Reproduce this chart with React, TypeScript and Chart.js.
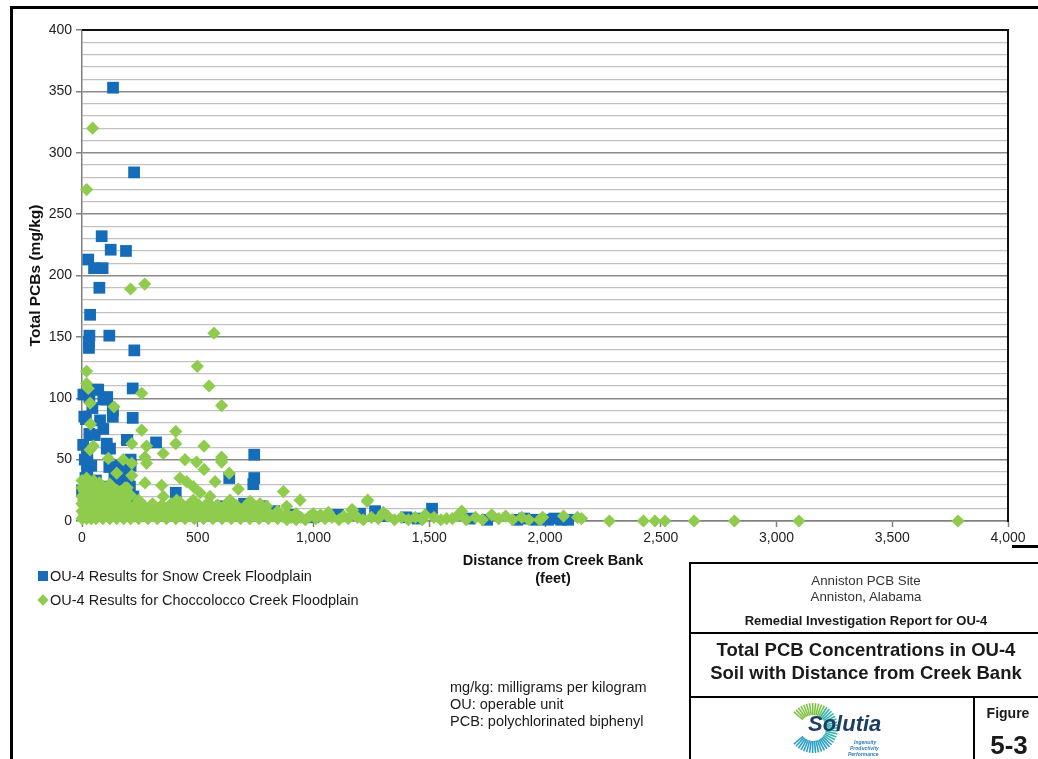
import React, { useEffect, useRef } from "react";
import { Chart, registerables } from "chart.js";

Chart.register(...registerables);

const F = '"Liberation Sans", Arial, Helvetica, sans-serif';

// ---- Data ----
const snowX = [
  134, 225, 85, 124, 190, 27, 52, 89, 75, 35, 32, 118, 30, 30, 226, 219, 219, 194, 320, 405, 744, 744, 740, 636, 1512,
  32, 63, 6, 104, 70, 92, 109, 133, 133, 17, 78, 92, 32, 107, 121, 107, 118, 23, 23, 23, 27, 0, 10, 5, 12, 45, 55, 40, 15, 60,
  196, 210, 210, 178, 171, 207, 222, 188, 150, 140, 165, 200, 100, 250, 300, 350, 520, 600, 650, 700, 780, 830, 900, 1000,
  1106, 1201, 1266, 1300, 1400, 1450, 1676, 1750, 1880, 1910, 1960, 2013, 2040, 2070, 2100,
];
const snowY = [
  353, 284, 232, 221, 220, 213, 206, 206, 190, 168, 151, 151, 146, 141, 139, 108, 84, 66, 64, 23, 54, 35, 30, 35, 10,
  101, 107, 103, 99, 107, 99, 101, 90, 85, 83, 82, 75, 71, 63, 59, 59, 44, 55, 47, 39, 30, 25, 85, 62, 50, 92, 70, 45, 35, 33,
  66, 50, 45, 36, 29, 28, 20, 17, 22, 35, 45, 37, 28, 12, 8, 10, 8, 12, 8, 14, 12, 8, 5, 3,
  5, 6, 8, 4, 3, 2, 2, 1, 1, 2, 1, 1, 2, 1, 1,
];

const choccOutX = [
  46, 20, 210, 271, 570, 498, 549, 603, 20, 20, 27, 35, 138, 258, 37, 258, 405, 405, 215, 279,
  527, 49, 35, 114, 272, 445, 495, 527, 603, 603, 636, 351, 279, 178, 215, 150, 215, 186, 272, 344,
  423, 452, 481, 575, 675, 870, 942, 1234, 1169, 1640, 351, 150, 409, 510, 481, 553, 639, 740, 798, 6,
  63, 1232, 1165, 1064, 884, 1770, 1575, 1482, 1302, 999, 769, 726, 1976, 2158, 2278, 2425, 2475, 2518, 2644, 2818,
  3097, 3784,
];
const choccOutY = [
  320, 270, 189, 193, 153, 126, 110, 94, 122, 112, 108, 96, 93, 104, 79, 74, 73, 63, 63, 61,
  61, 61, 58, 51, 52, 50, 48, 42, 52, 48, 39, 55, 47, 50, 47, 39, 37, 27, 31, 29,
  35, 32, 28, 32, 26, 24, 17, 17, 9, 8, 20, 25, 17, 23, 17, 20, 17, 13, 12, 17,
  23, 16, 9, 7, 12, 5, 2, 5, 7, 6, 14, 16, 1, 2, 0, 0, 0, 0, 0, 0,
  0, 0,
];

const choccNearX = [
  0, 0, 0, 0, 0, 0, 10, 10, 10, 10, 20, 20, 20, 20, 20, 30, 30, 30, 30, 40, 40, 40, 40,
  50, 50, 50, 50, 60, 60, 60, 60, 75, 75, 75, 75, 90, 90, 90, 90, 105, 105, 105,
  120, 120, 120, 120, 135, 135, 135, 150, 150, 150, 165, 165, 165, 180, 180, 180, 195, 195, 195, 210, 210, 210,
];
const choccNearY = [
  2, 8, 14, 20, 27, 33, 5, 12, 24, 30, 2, 9, 18, 28, 35, 5, 14, 22, 32, 2, 10, 19, 27,
  6, 15, 24, 33, 2, 11, 19, 29, 5, 14, 23, 31, 2, 10, 20, 28, 6, 15, 24,
  2, 11, 19, 30, 5, 14, 25, 2, 10, 18, 6, 14, 24, 2, 10, 19, 5, 14, 27, 2, 10, 21,
];

const choccMidX = [
  225, 225, 245, 245, 245, 265, 265, 285, 285, 305, 305, 325, 325, 345, 345, 365, 365, 385, 385, 405, 405,
  425, 425, 445, 445, 465, 465, 485, 485, 505, 505, 525, 525, 545, 545, 565, 565, 585, 585, 605, 605,
  625, 625, 645, 645, 665, 665, 685, 685, 705, 705, 725, 725, 745, 745, 765, 765, 785, 785,
];
const choccMidY = [
  4, 12, 2, 9, 17, 5, 13, 2, 10, 5, 14, 2, 10, 5, 13, 2, 9, 5, 14, 2, 10,
  6, 15, 2, 11, 5, 14, 2, 9, 5, 13, 2, 10, 6, 15, 2, 10, 5, 13, 2, 9,
  5, 14, 2, 10, 6, 13, 2, 9, 5, 12, 2, 8, 5, 11, 2, 8, 5, 10,
];

const choccFarX = [
  805, 805, 825, 845, 845, 865, 885, 885, 905, 925, 925, 945, 965, 985, 1010, 1030, 1050, 1080, 1110, 1130,
  1150, 1190, 1215, 1250, 1280, 1320, 1350, 1380, 1410, 1440, 1470, 1520, 1550, 1600, 1620, 1660, 1700, 1730, 1800, 1830,
  1860, 1900, 1930, 1990, 2080, 2140,
];
const choccFarY = [
  2, 7, 4, 2, 8, 4, 1, 6, 3, 1, 6, 3, 1, 4, 2, 5, 2, 3, 1, 4,
  2, 3, 1, 3, 2, 4, 1, 3, 1, 3, 1, 3, 1, 2, 4, 1, 3, 1, 2, 4,
  1, 3, 1, 3, 4, 3,
];

const X_MIN = 0;
const X_MAX = 4000;
const X_STEP = 500;
const Y_MIN = 0;
const Y_MAX = 400;
const Y_MINOR_STEP = 10;
const Y_LABEL_STEP = 50;

const SNOW_LABEL = "OU-4 Results for Snow Creek Floodplain";
const CHOCC_LABEL = "OU-4 Results for Choccolocco Creek Floodplain";

const BLUE = "#156CB9";
const GREEN = "#8FCC4E";

function pairs(xs: number[], ys: number[]) {
  return xs.map((x, i) => ({ x, y: ys[i] }));
}

const framePlugin = {
  id: "plotFrame",
  beforeDatasetsDraw(chart: any) {
    const { ctx, chartArea: a } = chart;
    ctx.save();
    ctx.strokeStyle = "#111";
    ctx.lineWidth = 2;
    ctx.beginPath();
    ctx.moveTo(a.left, a.top);
    ctx.lineTo(a.right, a.top);
    ctx.lineTo(a.right, a.bottom + 1);
    ctx.stroke();
    ctx.restore();
  },
};

function Logo() {
  const rays: React.ReactElement[] = [];
  const cx = 55;
  const cy = 30;
  for (let a = 40; a <= 320; a += 7) {
    const rad = (a * Math.PI) / 180;
    const r1 = 13;
    const r2 = a % 14 === 0 ? 29 : 25;
    const x1 = cx - Math.cos(rad) * r1;
    const y1 = cy - Math.sin(rad) * r1;
    const x2 = cx - Math.cos(rad) * r2;
    const y2 = cy - Math.sin(rad) * r2;
    const col = a < 120 ? "#7cc242" : a < 220 ? "#35b3b0" : "#2a9fc4";
    rays.push(<line key={a} x1={x1} y1={y1} x2={x2} y2={y2} stroke={col} strokeWidth={1.6} />);
  }
  return (
    <svg width={130} height={62} style={{ position: "absolute", left: 758, top: 698 }}>
      {rays}
      <text x={50} y={33} fontFamily={F} fontStyle="italic" fontWeight="bold" fontSize={22} fill="#1d3d63">
        Solutia
      </text>
      <text x={96} y={46} fontFamily={F} fontStyle="italic" fontWeight="bold" fontSize={5} fill="#2b7bb9">
        Ingenuity
      </text>
      <text x={92} y={52} fontFamily={F} fontStyle="italic" fontWeight="bold" fontSize={5} fill="#2b7bb9">
        Productivity
      </text>
      <text x={90} y={58} fontFamily={F} fontStyle="italic" fontWeight="bold" fontSize={5} fill="#2b7bb9">
        Performance
      </text>
    </svg>
  );
}

const abs = (s: React.CSSProperties): React.CSSProperties => ({ position: "absolute", ...s });

export default function App() {
  const ref = useRef<HTMLCanvasElement>(null);

  useEffect(() => {
    const chart = new Chart(ref.current as HTMLCanvasElement, {
      type: "scatter",
      data: {
        datasets: [
          {
            label: SNOW_LABEL,
            data: pairs(snowX, snowY),
            pointStyle: "rect",
            pointRadius: 8.3,
            pointHoverRadius: 8.3,
            backgroundColor: BLUE,
            borderWidth: 0,
            clip: false,
            order: 2,
          } as any,
          {
            label: CHOCC_LABEL,
            data: [
              ...pairs(choccNearX, choccNearY),
              ...pairs(choccMidX, choccMidY),
              ...pairs(choccFarX, choccFarY),
              ...pairs(choccOutX, choccOutY),
            ],
            pointStyle: "rectRot",
            pointRadius: 6.6,
            pointHoverRadius: 6.6,
            backgroundColor: GREEN,
            borderWidth: 0,
            clip: false,
            order: 1,
          } as any,
        ],
      },
      options: {
        responsive: false,
        animation: false,
        devicePixelRatio: 1,
        events: [],
        layout: { padding: { left: 23, top: 30, right: 30, bottom: 208 } },
        plugins: { legend: { display: false }, tooltip: { enabled: false } },
        scales: {
          x: {
            type: "linear",
            min: X_MIN,
            max: X_MAX,
            afterFit: (s: any) => {
              s.height = 30;
            },
            ticks: {
              stepSize: X_STEP,
              autoSkip: false,
              maxRotation: 0,
              padding: 3,
              color: "#222",
              font: { family: F, size: 14 },
              callback: (v: any) => Number(v).toLocaleString("en-US"),
            },
            grid: {
              display: true,
              drawOnChartArea: false,
              drawTicks: true,
              tickLength: 6,
              tickColor: "#808080",
              tickWidth: 1.5,
            },
            border: { display: true, color: "#808080", width: 1.5 },
          },
          y: {
            type: "linear",
            min: Y_MIN,
            max: Y_MAX,
            afterFit: (s: any) => {
              s.width = 59;
            },
            ticks: {
              stepSize: Y_MINOR_STEP,
              autoSkip: false,
              padding: 4,
              color: "#222",
              font: { family: F, size: 14 },
              callback: (v: any) => (Number(v) % Y_LABEL_STEP === 0 ? String(v) : ""),
            },
            grid: {
              color: (c: any) => {
                const v = c.tick ? c.tick.value : 0;
                if (v === Y_MAX) return "#111";
                return v % Y_LABEL_STEP === 0 ? "#8a8a8a" : "#c2c2c2";
              },
              lineWidth: (c: any) => (c.tick && c.tick.value % Y_LABEL_STEP === 0 ? 1.5 : 1.2),
              tickLength: 6,
              tickColor: (c: any) =>
                c.tick && c.tick.value % Y_LABEL_STEP === 0 ? "#808080" : "rgba(0,0,0,0)",
            },
            border: { display: true, color: "#808080", width: 1.5 },
            title: {
              display: true,
              text: "Total PCBs (mg/kg)",
              color: "#111",
              font: { family: F, size: 15.5, weight: "bold" },
              padding: { top: 3, bottom: 4 },
            },
          },
        },
      },
      plugins: [framePlugin],
    } as any);
    return () => chart.destroy();
  }, []);

  const txt: React.CSSProperties = { fontFamily: F, color: "#1a1a1a", whiteSpace: "nowrap" };

  return (
    <div
      style={{
        position: "fixed",
        left: 0,
        top: 0,
        width: 1038,
        height: 759,
        overflow: "hidden",
        background: "#fff",
        fontFamily: F,
      }}
    >
      {/* outer frame */}
      <div style={abs({ left: 10, top: 6, width: 1100, height: 800, border: "3px solid #000" })} />
      <div style={abs({ left: 1012, top: 545, width: 40, height: 3, background: "#000" })} />

      <canvas
        ref={ref}
        width={1038}
        height={759}
        style={{ position: "absolute", left: 0, top: 0, width: 1038, height: 759 }}
      />

      {/* x axis title */}
      <div
        style={abs({
          ...txt,
          left: 403,
          top: 551,
          width: 300,
          textAlign: "center",
          fontWeight: "bold",
          fontSize: 14.5,
          lineHeight: "18px",
          color: "#111",
        })}
      >
        Distance from Creek Bank
        <br />
        (feet)
      </div>

      {/* legend */}
      <div style={abs({ left: 38, top: 571, width: 10, height: 10, background: BLUE })} />
      <div style={abs({ ...txt, left: 50, top: 567, fontSize: 14.5, lineHeight: "18px" })}>{SNOW_LABEL}</div>
      <div
        style={abs({
          left: 39,
          top: 596,
          width: 8,
          height: 8,
          background: GREEN,
          transform: "rotate(45deg)",
        })}
      />
      <div style={abs({ ...txt, left: 50, top: 591, fontSize: 14.5, lineHeight: "18px" })}>{CHOCC_LABEL}</div>

      {/* notes */}
      <div style={abs({ ...txt, left: 450, top: 679, fontSize: 14.5, lineHeight: "17px" })}>
        mg/kg: milligrams per kilogram
        <br />
        OU: operable unit
        <br />
        PCB: polychlorinated biphenyl
      </div>

      {/* title block */}
      <div style={abs({ left: 689, top: 562, width: 400, height: 300, borderLeft: "2px solid #000", borderTop: "2px solid #000" })} />
      <div style={abs({ left: 689, top: 632, width: 400, height: 2, background: "#000" })} />
      <div style={abs({ left: 689, top: 696, width: 400, height: 2, background: "#000" })} />
      <div style={abs({ left: 973, top: 696, width: 2, height: 80, background: "#000" })} />

      <div style={abs({ ...txt, left: 691, width: 350, top: 573, textAlign: "center", fontSize: 13.3, lineHeight: "16px", color: "#333" })}>
        Anniston PCB Site
        <br />
        Anniston, Alabama
      </div>
      <div style={abs({ ...txt, left: 691, width: 350, top: 612, textAlign: "center", fontSize: 13, fontWeight: "bold", lineHeight: "18px" })}>
        Remedial Investigation Report for OU-4
      </div>
      <div style={abs({ ...txt, left: 691, width: 350, top: 638, textAlign: "center", fontSize: 18.5, fontWeight: "bold", lineHeight: "23px" })}>
        Total PCB Concentrations in OU-4
        <br />
        Soil with Distance from Creek Bank
      </div>
      <Logo />
      <div style={abs({ ...txt, left: 975, width: 66, top: 704, textAlign: "center", fontSize: 14, fontWeight: "bold", lineHeight: "18px" })}>
        Figure
      </div>
      <div style={abs({ ...txt, left: 975, width: 68, top: 730, textAlign: "center", fontSize: 26, fontWeight: "bold", lineHeight: "30px" })}>
        5-3
      </div>
    </div>
  );
}
